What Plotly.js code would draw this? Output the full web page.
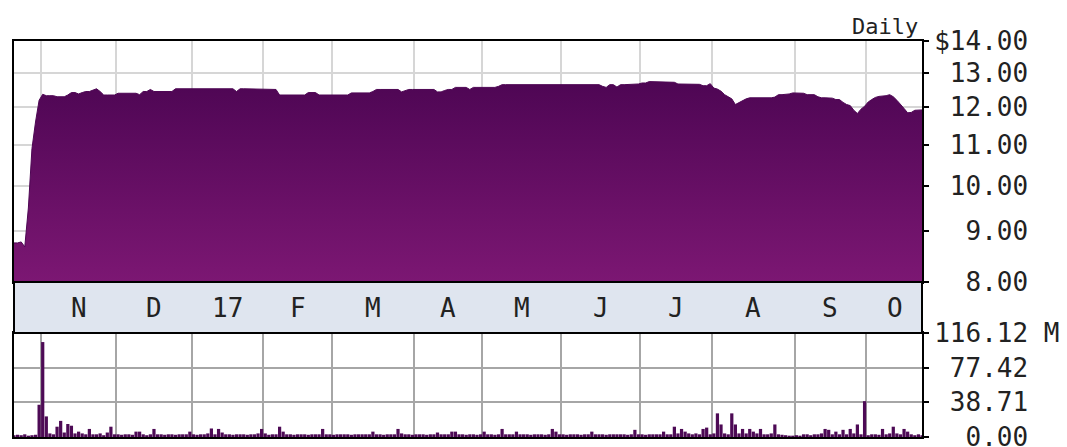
<!DOCTYPE html>
<html><head><meta charset="utf-8">
<script src="https://cdn.plot.ly/plotly-3.0.1.min.js"></script>
<style>html,body{margin:0;padding:0;background:#fff}#chart{width:1067px;height:447px}</style>
</head><body><div id="chart"></div>
<script>
// Month labels and the trading-day index where each month starts
const monthLabels = ['N','D','17','F','M','A','M','J','J','A','S','O'];
const monthStart = [8,29,50,70,89,112,131,153,175,195,218,238];

// Axis ticks
const priceTicks = [8,9,10,11,12,13,14];
const priceTickText = ['8.00','9.00','10.00','11.00','12.00','13.00','$14.00'];
const volTicks = [0,38.71,77.42,116.12];
const volTickText = ['0.00','38.71','77.42','116.12'];
const volUnit = 'M';
const cornerLabel = 'Daily';

// Daily closing price ($), one value per trading day
const price = [
8.76,8.76,8.78,8.68,9.50,10.90,11.60,12.20,12.37,12.33,
12.33,12.33,12.30,12.30,12.30,12.35,12.42,12.42,12.38,12.42,
12.45,12.45,12.50,12.53,12.45,12.35,12.35,12.36,12.35,12.40,
12.40,12.41,12.40,12.40,12.40,12.36,12.45,12.45,12.51,12.45,
12.45,12.46,12.45,12.45,12.45,12.53,12.53,12.53,12.54,12.53,
12.53,12.53,12.53,12.54,12.53,12.53,12.53,12.53,12.54,12.53,
12.53,12.53,12.45,12.53,12.53,12.53,12.53,12.53,12.53,12.51,
12.51,12.51,12.51,12.51,12.35,12.35,12.35,12.35,12.36,12.35,
12.35,12.35,12.42,12.42,12.42,12.35,12.35,12.35,12.35,12.35,
12.35,12.36,12.35,12.35,12.41,12.41,12.41,12.41,12.41,12.41,
12.45,12.51,12.51,12.51,12.51,12.51,12.51,12.51,12.44,12.48,
12.51,12.51,12.51,12.51,12.51,12.51,12.51,12.51,12.44,12.44,
12.48,12.51,12.51,12.57,12.57,12.57,12.57,12.51,12.57,12.57,
12.57,12.57,12.57,12.57,12.57,12.60,12.65,12.65,12.65,12.65,
12.65,12.65,12.65,12.65,12.65,12.65,12.65,12.65,12.65,12.65,
12.65,12.65,12.65,12.65,12.65,12.65,12.65,12.65,12.65,12.65,
12.65,12.65,12.65,12.65,12.60,12.57,12.65,12.65,12.58,12.65,
12.65,12.65,12.65,12.65,12.67,12.70,12.70,12.74,12.74,12.74,
12.74,12.74,12.74,12.74,12.72,12.67,12.67,12.67,12.67,12.67,
12.67,12.66,12.62,12.62,12.68,12.55,12.52,12.46,12.36,12.30,
12.24,12.08,12.14,12.20,12.24,12.27,12.27,12.25,12.27,12.25,
12.27,12.27,12.29,12.36,12.36,12.36,12.38,12.41,12.41,12.41,
12.40,12.36,12.36,12.36,12.30,12.27,12.27,12.27,12.26,12.22,
12.22,12.14,12.08,12.05,11.92,11.83,11.95,12.03,12.15,12.22,
12.28,12.31,12.31,12.33,12.36,12.30,12.20,12.07,11.97,11.85,
11.86,11.92,11.92,11.93
];

// Daily volume (millions of shares)
const volume = [
2,2.5,2,3,1.5,2,2.5,36,106,23,
4,3,11.5,18,5,14.5,12.6,4,6,4,
3,9,3,3,4,2,5,11.5,3,3,
2.5,3,3,2.5,6,6,3,2,3,9,
3,3,2.5,3,3,2.5,3,3,3,6,
3,2.5,3,3,4,9.5,3,9,5,3,
3,2.5,3,3,3,2.5,3,3,4,9,
4,2.5,3,3,11.5,6,3,3,2.5,3,
3,3,2.5,3,3,3,9,3,3,2.5,
3,3,3,3,2.5,3,3,3,3,3,
6,3,3,2.5,3,3,3,9,4,3,
3,2.5,3,3,3,2.5,3,3,5,3,
3,3,6,6,3,3,2.5,3,3,2.5,
3,6,3,3,2.5,3,9,3,3,3,
6,3,3,3,2.5,3,3,3,2.5,3,
9,6,3,3,2.5,3,3,3,2.5,3,
3,6,3,3,3,2.5,3,3,3,3,
3,2.5,3,8,3,3,2.5,3,3,3,
3,6,3,3,11.5,4,9,6,4,3,
4,3,9,10.5,3,4,26.4,14,4,3,
26.4,14,4,9,4,9,6,4,9,3,
3,4,14,3,2.5,2,1.5,1.5,2,1.5,
3,3,2,3,3,4,9,8,3,6,
3,8,3,9,4,14,3,40,2,3,
3,2.5,9,3,4,11.5,4,3,9,6,
3,2,3,2
];

const nDays = price.length;
const day = price.map((_, i) => i);

// Pixel layout of the figure
const T = 41, B = 437, priceBottom = 282, volTop = 333;
const ph = B - T;
const priceDom = [(B - priceBottom) / ph, 1];
const volDom = [0, (B - volTop) / ph];

const NB = '\u00a0';
function padLeft(arr){
  const m = Math.max(...arr.map(s => s.length));
  return arr.map(s => NB.repeat(m - s.length) + s);
}
const pText = padLeft(priceTickText);
const vText = padLeft(volTickText).map((s, i) => i === volTickText.length - 1 ? s + NB + volUnit : s);

const gridVals = monthStart.map(m => m - 0.5);
const FONT = 'DejaVu Sans Mono';
const TXT = '#222';
const FS = 26;

const traces = [
  {x: [0, nDays - 1], y: [priceTicks[0], priceTicks[0]], mode: 'lines', line: {width: 0}, hoverinfo: 'skip', showlegend: false, xaxis: 'x', yaxis: 'y'},
  {x: day, y: price, mode: 'lines', fill: 'tonexty',
   fillgradient: {type: 'vertical', colorscale: [[0, '#7c1773'], [1, '#4e0654']]},
   line: {color: '#4e0654', width: 1}, showlegend: false, xaxis: 'x', yaxis: 'y'},
  {x: day, y: volume, type: 'bar', marker: {color: '#4d0a55', line: {width: 0}}, showlegend: false, xaxis: 'x2', yaxis: 'y2'}
];

const annotations = monthLabels.map((lab, k) => {
  const a = monthStart[k] - 0.5;
  const b = (k + 1 < monthStart.length ? monthStart[k + 1] : nDays) - 0.5;
  return {x: (a + b) / 2, xref: 'x', y: (priceDom[0] + volDom[1]) / 2, yref: 'paper',
          text: lab, showarrow: false, xanchor: 'center', yanchor: 'middle',
          font: {family: FONT, size: FS, color: TXT}};
});
annotations.push({x: 1, xref: 'paper', y: 1, yref: 'paper', xanchor: 'right', yanchor: 'bottom',
  xshift: -2, yshift: 0, text: cornerLabel, showarrow: false, font: {family: FONT, size: 22, color: TXT}});

const xBase = {range: [0, nDays - 1], tickvals: gridVals, showticklabels: false, ticks: '',
  showgrid: true, gridwidth: 2, zeroline: false, showline: true, linecolor: '#000', linewidth: 2, mirror: true, fixedrange: true};

const layout = {
  width: 1067, height: 447,
  margin: {l: 14, r: 145, t: T, b: 447 - B},
  paper_bgcolor: '#fff', plot_bgcolor: '#fff',
  showlegend: false, bargap: 0.1,
  font: {family: FONT, size: FS, color: TXT},
  xaxis: Object.assign({}, xBase, {domain: [0, 1], anchor: 'y', gridcolor: '#d6d6d6'}),
  yaxis: {domain: priceDom, anchor: 'x', type: 'log', range: [Math.log10(priceTicks[0]), Math.log10(priceTicks[priceTicks.length - 1])],
    side: 'right', tickvals: priceTicks, ticktext: pText, ticks: 'outside', ticklen: 5, tickwidth: 2, tickcolor: '#000',
    showline: true, linecolor: '#000', linewidth: 2, mirror: true, showgrid: true, gridcolor: '#d6d6d6', gridwidth: 2,
    zeroline: false, tickfont: {family: FONT, size: FS, color: TXT}, ticklabeloverflow: 'allow', fixedrange: true},
  xaxis2: Object.assign({}, xBase, {domain: [0, 1], anchor: 'y2', gridcolor: '#a6a6a6'}),
  yaxis2: {domain: volDom, anchor: 'x2', range: [volTicks[0], volTicks[volTicks.length - 1]],
    side: 'right', tickvals: volTicks, ticktext: vText, ticks: 'outside', ticklen: 5, tickwidth: 2, tickcolor: '#000',
    showline: true, linecolor: '#000', linewidth: 2, mirror: true, showgrid: true, gridcolor: '#a6a6a6', gridwidth: 2,
    zeroline: false, tickfont: {family: FONT, size: FS, color: TXT}, ticklabeloverflow: 'allow', fixedrange: true},
  shapes: [{type: 'rect', xref: 'paper', yref: 'paper', x0: 0, x1: 1, y0: volDom[1], y1: priceDom[0],
    fillcolor: '#dfe5ef', line: {color: '#000', width: 2}, layer: 'above'}],
  annotations: annotations
};

Plotly.newPlot('chart', traces, layout, {displayModeBar: false, staticPlot: true});
</script>
</body></html>
